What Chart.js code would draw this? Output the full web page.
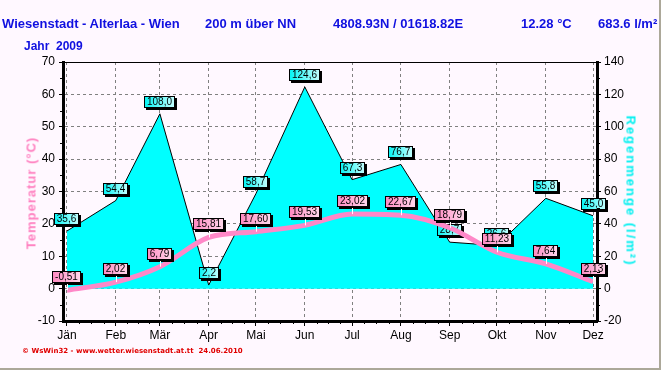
<!DOCTYPE html>
<html>
<head>
<meta charset="utf-8">
<script src="https://cdn.jsdelivr.net/npm/chart.js@4"></script>
<style>
  html, body { margin: 0; padding: 0; background: #fff8ff; }
  #wrap { position: relative; width: 661px; height: 370px; background: #fff8ff; overflow: hidden;
          font-family: Arial, "Liberation Sans", sans-serif; }
  #wrap canvas { position: absolute; left: 0; top: 0; }
  .t { position: absolute; white-space: nowrap; color: #1010e0; font-weight: bold;
       font-size: 13px; line-height: 13px; }
  .ax { position: absolute; white-space: nowrap; font-weight: bold; font-size: 13px;
        line-height: 13px; transform: translate(-50%, -50%) rotate(-90deg); }
  #foot { position: absolute; left: 22px; top: 347px; color: #e00000; font-size: 7px;
          font-weight: bold; line-height: 8px; white-space: nowrap; font-family: "DejaVu Sans", sans-serif; }
  .edge { position: absolute; background: #aca899; }
</style>
</head>
<body>
<div id="wrap">
  <canvas id="c" width="661" height="370"></canvas>
  <div class="t" style="left:2px;top:17px">Wiesenstadt - Alterlaa - Wien</div>
  <div class="t" style="left:205px;top:17px">200 m über NN</div>
  <div class="t" style="left:333px;top:17px">4808.93N / 01618.82E</div>
  <div class="t" style="left:521px;top:17px">12.28 °C</div>
  <div class="t" style="left:598px;top:17px">683.6 l/m²</div>
  <div class="t" style="left:24px;top:40px;font-size:12px;line-height:12px">Jahr&nbsp; 2009</div>
  <div class="ax" style="left:31px;top:193px;color:#ff80c0;letter-spacing:1px">Temperatur (°C)</div>
  <div class="ax" style="left:631px;top:191px;color:#00f0f0;letter-spacing:2px;transform:translate(-50%,-50%) rotate(90deg)">Regenmenge (l/m²)</div>
  <div id="foot">© WsWin32 - www.wetter.wiesenstadt.at.tt&nbsp; 24.06.2010</div>
  <div class="edge" style="left:659px;top:0;width:2px;height:370px"></div>
  <div class="edge" style="left:0;top:368px;width:661px;height:2px"></div>
</div>
<script>
const months = ['Jän', 'Feb', 'Mär', 'Apr', 'Mai', 'Jun', 'Jul', 'Aug', 'Sep', 'Okt', 'Nov', 'Dez'];
const monthStart = [0, 31, 59, 90, 120, 151, 181, 212, 243, 273, 304, 334];
const temperature = [-0.51, 2.02, 6.79, 15.81, 17.60, 19.53, 23.02, 22.67, 18.79, 11.23, 7.64, 2.13];
const rain = [35.6, 54.4, 108.0, 2.2, 58.7, 124.6, 67.3, 76.7, 28.7, 26.6, 55.8, 45.0];

const PINK = '#ff88c8';
const CYAN = '#00ffff';

function fmt(v, d) { return v.toFixed(d).replace('.', ','); }

function drawBox(ctx, x, y, text, c1, c2) {
  ctx.font = '10px Arial, "Liberation Sans", sans-serif';
  const w = Math.round(ctx.measureText(text).width) + 6;
  const h = 12;
  const left = Math.round(x - w / 2), top = Math.round(y - h / 2);
  ctx.fillStyle = '#000';
  ctx.fillRect(left + 2, top + 2, w, h);
  const g = ctx.createLinearGradient(left, 0, left + w, 0);
  g.addColorStop(0, c1);
  g.addColorStop(1, c2);
  ctx.fillStyle = g;
  ctx.fillRect(left, top, w, h);
  ctx.strokeStyle = '#000';
  ctx.lineWidth = 1;
  ctx.strokeRect(left + 0.5, top + 0.5, w - 1, h - 1);
  ctx.fillStyle = '#000';
  ctx.textAlign = 'center';
  ctx.textBaseline = 'middle';
  ctx.fillText(text, left + w / 2, top + h / 2 + 0.5);
  return top + h;
}

const labelPlugin = {
  id: 'labels',
  afterDatasetDraw(chart, args) {
    const ctx = chart.ctx;
    const meta = args.meta;
    ctx.save();
    if (meta.yAxisID === 'y1') {
      meta.data.forEach((p, i) => drawBox(ctx, p.x, p.y - 12, fmt(rain[i], 1), '#00f4f4', '#c8ffff'));
    } else {
      meta.data.forEach((p, i) => {
        const bottom = drawBox(ctx, p.x, p.y - 13, fmt(temperature[i], 2), '#ff88c0', '#ffd8ec');
        ctx.strokeStyle = '#fff';
        ctx.lineWidth = 1;
        ctx.beginPath();
        ctx.moveTo(Math.round(p.x) + 0.5, bottom + 1);
        ctx.lineTo(Math.round(p.x) + 0.5, p.y);
        ctx.stroke();
      });
    }
    ctx.restore();
  }
};

const framePlugin = {
  id: 'frame',
  afterDraw(chart) {
    const ctx = chart.ctx, a = chart.chartArea;
    const sx = chart.scales.x, sy = chart.scales.y, sy1 = chart.scales.y1;
    ctx.save();
    ctx.strokeStyle = '#000';
    ctx.lineWidth = 1;
    ctx.beginPath();
    ctx.moveTo(a.left, a.top + 0.5);
    ctx.lineTo(a.right, a.top + 0.5);
    // minor ticks
    for (let v = -5; v < 70; v += 10) {
      const y = Math.round(sy.getPixelForValue(v)) + 0.5;
      ctx.moveTo(a.left - 3, y); ctx.lineTo(a.left, y);
    }
    for (let v = -10; v < 140; v += 20) {
      const y = Math.round(sy1.getPixelForValue(v)) + 0.5;
      ctx.moveTo(a.right, y); ctx.lineTo(a.right + 3, y);
    }
    for (let i = 0; i < monthStart.length - 1; i++) {
      const len = monthStart[i + 1] - monthStart[i];
      for (let k = 1; k < 4; k++) {
        const x = Math.round(sx.getPixelForValue(monthStart[i] + len * k / 4)) + 0.5;
        ctx.moveTo(x, a.bottom); ctx.lineTo(x, a.bottom + 3);
      }
    }
    ctx.stroke();
    ctx.restore();
  }
};

const gridDash = { display: true, color: '#000', width: 3, dash: [3, 3] };

new Chart(document.getElementById('c'), {
  type: 'line',
  data: {
    datasets: [
      {
        label: 'Temperatur',
        yAxisID: 'y',
        order: 1,
        data: temperature.map((v, i) => ({ x: monthStart[i], y: v })),
        borderColor: PINK,
        borderWidth: 5,
        cubicInterpolationMode: 'monotone',
        pointRadius: 0,
        fill: false
      },
      {
        label: 'Regenmenge',
        yAxisID: 'y1',
        order: 2,
        data: rain.map((v, i) => ({ x: monthStart[i], y: v })),
        borderColor: '#000',
        borderWidth: 1,
        backgroundColor: CYAN,
        tension: 0,
        pointRadius: 0,
        fill: 'origin'
      }
    ]
  },
  options: {
    responsive: false,
    animation: false,
    layout: { padding: { top: 62, left: 0, right: 0, bottom: 0 } },
    plugins: { legend: { display: false }, tooltip: { enabled: false } },
    scales: {
      x: {
        type: 'linear',
        min: -2.5,
        max: 336.5,
        afterBuildTicks: s => { s.ticks = monthStart.map(v => ({ value: v })); },
        afterFit: s => { s.height = 49; },
        ticks: {
          autoSkip: false, maxRotation: 0, padding: 2, color: '#000',
          font: { family: 'Arial, "Liberation Sans", sans-serif', size: 12 },
          callback: (v, i) => months[i]
        },
        grid: { color: '#808080', lineWidth: 1, tickLength: 5, tickColor: '#000' },
        border: gridDash
      },
      y: {
        position: 'left',
        min: -10,
        max: 70,
        afterFit: s => { s.width = 63; },
        ticks: {
          stepSize: 10, padding: 4, color: '#000',
          font: { family: 'Arial, "Liberation Sans", sans-serif', size: 12 }
        },
        grid: { color: '#808080', lineWidth: 1, tickLength: 4, tickColor: '#000' },
        border: gridDash
      },
      y1: {
        position: 'right',
        min: -20,
        max: 140,
        afterFit: s => { s.width = 64; },
        ticks: {
          stepSize: 20, padding: 3, color: '#000',
          font: { family: 'Arial, "Liberation Sans", sans-serif', size: 12 }
        },
        grid: { drawOnChartArea: false, tickLength: 4, tickColor: '#000' },
        border: { display: true, color: '#000', width: 3 }
      }
    }
  },
  plugins: [labelPlugin, framePlugin]
});
</script>
</body>
</html>
